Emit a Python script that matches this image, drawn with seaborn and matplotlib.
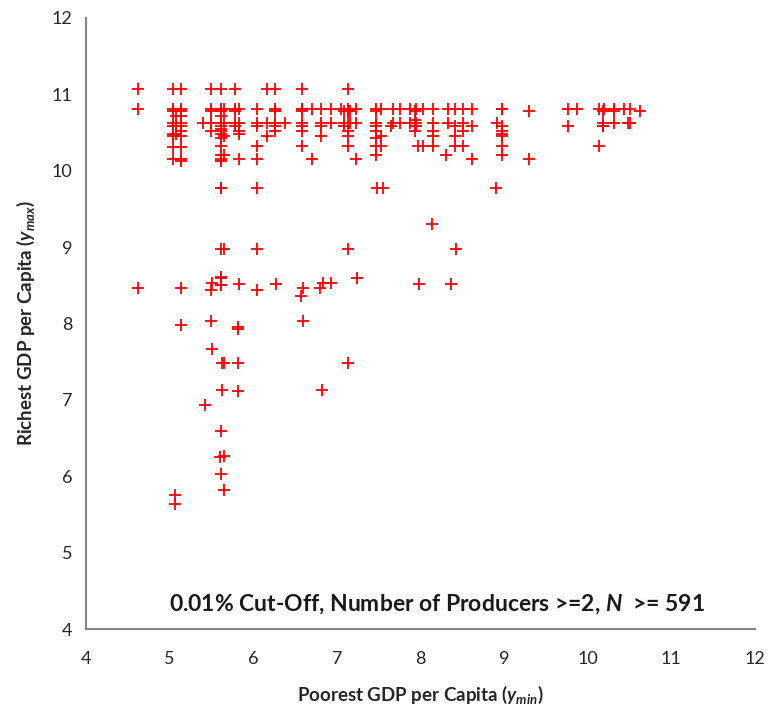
import matplotlib
matplotlib.use("Agg")
import matplotlib.pyplot as plt
import seaborn as sns
import pandas as pd

# Poorest (y_min) and richest (y_max) log GDP per capita of each product's producers
poorest = [
    4.62, 4.62, 4.62,
    5.04, 5.04, 5.04, 5.04, 5.04, 5.04, 5.04, 5.04, 5.04, 5.06, 5.06,
    5.13, 5.13, 5.13, 5.13, 5.13, 5.13, 5.13, 5.13, 5.13, 5.13, 5.13, 5.13, 5.13,
    5.08, 5.08, 5.08,
    5.40,
    5.50, 5.50, 5.50, 5.50, 5.50, 5.51, 5.50, 5.50, 5.51, 5.42,
    5.62, 5.62, 5.62, 5.62, 5.62, 5.62, 5.62, 5.62, 5.62, 5.62, 5.62, 5.62, 5.62,
    5.62, 5.62, 5.62, 5.62, 5.62, 5.61, 5.61, 5.62, 5.62, 5.63, 5.63, 5.61, 5.60, 5.62,
    5.65, 5.65, 5.65, 5.65, 5.65, 5.65, 5.65, 5.65,
    5.78, 5.78, 5.78, 5.78, 5.78,
    5.83, 5.83, 5.83, 5.83, 5.83, 5.83, 5.82, 5.82, 5.82, 5.82,
    6.05, 6.05, 6.05, 6.05, 6.05, 6.04, 6.04, 6.04,
    6.17, 6.17, 6.17,
    6.26, 6.26, 6.26, 6.26, 6.26, 6.26, 6.27,
    6.38,
    6.58, 6.58, 6.58, 6.58, 6.58, 6.58, 6.58, 6.58, 6.59, 6.57, 6.59,
    6.70, 6.70,
    6.81, 6.81, 6.81, 6.81, 6.80, 6.82,
    6.84,
    6.93, 6.93, 6.93,
    7.05,
    7.09, 7.09, 7.09,
    7.13, 7.13, 7.13, 7.13, 7.13, 7.13, 7.13, 7.13, 7.13,
    7.16, 7.16,
    7.23, 7.23, 7.23, 7.24,
    7.47, 7.47, 7.47, 7.47, 7.47, 7.47, 7.47, 7.47, 7.48,
    7.53, 7.53, 7.53, 7.55,
    7.67, 7.67, 7.65,
    7.75, 7.75,
    7.87, 7.87,
    7.95, 7.95, 7.95, 7.97, 7.98,
    7.93, 7.93, 7.93, 7.93,
    8.03, 8.03,
    8.15, 8.15, 8.15, 8.15, 8.15, 8.14,
    8.33, 8.33, 8.31, 8.36,
    8.41, 8.41, 8.41, 8.41, 8.42,
    8.51, 8.51, 8.51, 8.51,
    8.61, 8.61, 8.61,
    8.90, 8.91,
    8.97, 8.97, 8.97, 8.97, 8.97, 8.97, 8.97, 8.97,
    9.30, 9.30,
    9.76, 9.76, 9.87,
    10.14, 10.14,
    10.18, 10.18, 10.18, 10.18,
    10.20,
    10.31, 10.31, 10.31,
    10.43, 10.48, 10.51, 10.51, 10.62,
]
richest = [
    11.07, 10.81, 8.46,
    11.07, 10.81, 10.78, 10.63, 10.58, 10.48, 10.45, 10.31, 10.16, 5.76, 5.64,
    11.07, 10.81, 10.78, 10.72, 10.63, 10.58, 10.52, 10.45, 10.31, 10.16, 10.13, 8.46, 7.98,
    10.72, 10.58, 10.48,
    10.63,
    11.07, 10.81, 10.78, 10.63, 10.52, 8.53, 8.44, 8.03, 7.67, 6.93,
    11.07, 10.81, 10.81, 10.78, 10.72, 10.63, 10.58, 10.55, 10.52, 10.48, 10.43, 10.33, 10.20,
    10.16, 10.13, 9.78, 9.77, 8.97, 8.60, 8.61, 8.51, 8.50, 7.48, 7.13, 6.59, 6.25, 6.03,
    10.81, 10.63, 10.45, 10.20, 8.97, 7.48, 6.27, 5.82,
    11.07, 10.81, 10.78, 10.63, 10.58,
    10.81, 10.63, 10.52, 10.48, 10.15, 8.52, 7.95, 7.93, 7.48, 7.11,
    10.81, 10.63, 10.58, 10.33, 10.16, 9.78, 8.97, 8.44,
    11.07, 10.63, 10.46,
    11.07, 10.81, 10.78, 10.63, 10.58, 10.52, 8.52,
    10.63,
    11.07, 10.81, 10.81, 10.78, 10.63, 10.58, 10.52, 10.33, 8.47, 8.36, 8.03,
    10.81, 10.15,
    10.81, 10.63, 10.58, 10.46, 8.46, 7.13,
    8.53,
    10.81, 10.63, 8.53,
    10.81,
    10.78, 10.63, 10.58,
    11.07, 10.81, 10.78, 10.63, 10.52, 10.46, 10.33, 8.97, 7.48,
    10.78, 10.63,
    10.81, 10.63, 10.15, 8.60,
    10.81, 10.78, 10.63, 10.58, 10.52, 10.43, 10.33, 10.20, 9.77,
    10.81, 10.46, 10.33, 9.77,
    10.81, 10.63, 10.58,
    10.81, 10.63,
    10.81, 10.63,
    10.81, 10.63, 10.58, 10.33, 8.52,
    10.78, 10.67, 10.58, 10.52,
    10.81, 10.33,
    10.81, 10.63, 10.52, 10.45, 10.33, 9.30,
    10.81, 10.63, 10.20, 8.52,
    10.81, 10.58, 10.45, 10.33, 8.97,
    10.81, 10.63, 10.52, 10.33,
    10.81, 10.58, 10.15,
    9.77, 10.63,
    10.81, 10.81, 10.58, 10.52, 10.48, 10.45, 10.33, 10.20,
    10.78, 10.15,
    10.81, 10.58, 10.81,
    10.81, 10.32,
    10.78, 10.63, 10.58, 10.58,
    10.81,
    10.81, 10.78, 10.63,
    10.81, 10.63, 10.81, 10.63, 10.78,
]

x_ticks = [4, 5, 6, 7, 8, 9, 10, 11, 12]
y_ticks = [4, 5, 6, 7, 8, 9, 10, 11, 12]

df = pd.DataFrame({"ymin": poorest, "ymax": richest})

sns.set_style("white")
plt.rcParams["font.family"] = ["Lato", "DejaVu Sans"]
plt.rcParams["mathtext.fontset"] = "custom"
plt.rcParams["mathtext.it"] = "Lato:italic:bold"
plt.rcParams["mathtext.rm"] = "Lato:bold"
plt.rcParams["mathtext.bf"] = "Lato:bold"

axis_grey = "#868686"
text_dark = "#262626"

fig = plt.figure(figsize=(7.70, 7.17), dpi=100)
ax = fig.add_axes([0.1117, 0.1227, 0.8688, 0.8522])

sns.scatterplot(data=df, x="ymin", y="ymax", ax=ax, marker="+", color="#ff0000",
                s=75, linewidth=1.3, legend=False)

ax.set_xlim(4, 12)
ax.set_ylim(4, 12)
ax.set_xticks(x_ticks)
ax.set_yticks(y_ticks)
ax.set_xticklabels([str(t) for t in x_ticks])
ax.set_yticklabels([str(t) for t in y_ticks])

sns.despine(ax=ax, top=True, right=True)
for side in ("left", "bottom"):
    ax.spines[side].set_color(axis_grey)
    ax.spines[side].set_linewidth(1.5)

ax.tick_params(axis="both", which="major", direction="out", length=5, width=1.2,
               color=axis_grey, labelsize=13, labelcolor=text_dark)
ax.tick_params(axis="y", pad=5)
ax.tick_params(axis="x", pad=11)

ax.set_xlabel(r"Poorest GDP per Capita ($y_{min}$)", fontsize=13.5, fontweight="bold",
              color=text_dark, labelpad=12)
ax.set_ylabel(r"Richest GDP per Capita ($y_{max}$)", fontsize=13.5, fontweight="bold",
              color=text_dark, labelpad=10)

ax.text(8.2, 4.32, r"0.01% Cut-Off, Number of Producers >=2, $N$  >= 591",
        ha="center", va="center", fontsize=16.5, fontweight="bold", color="#1a1a1a")

fig.savefig("out.png", dpi=100)
